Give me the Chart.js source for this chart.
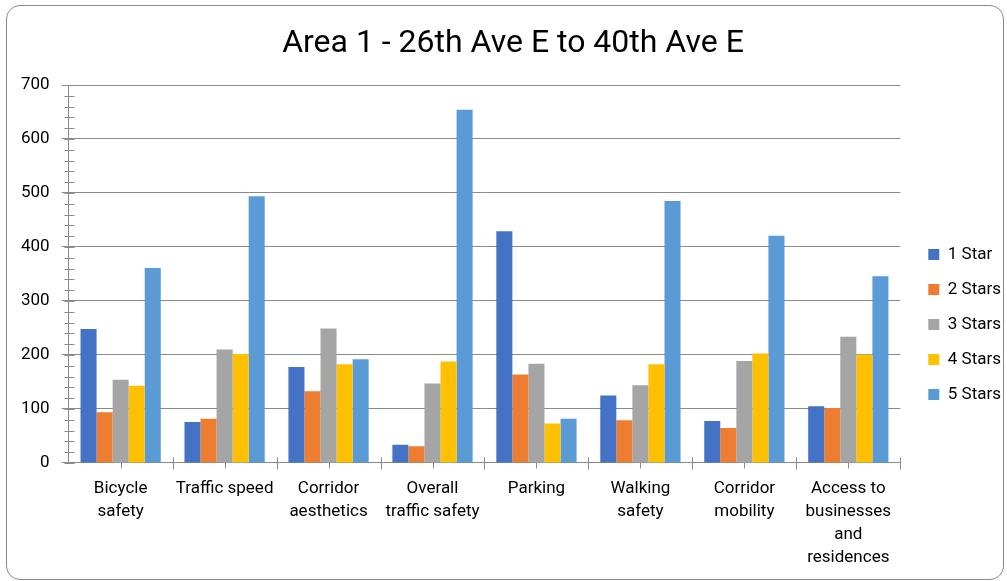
<!DOCTYPE html>
<html>
<head>
<meta charset="utf-8">
<script src="https://cdn.jsdelivr.net/npm/chart.js@4/dist/chart.umd.min.js"></script>
<style>
  html, body { margin: 0; padding: 0; background: #fff; }
  #wrap { position: relative; width: 1007px; height: 581px; overflow: hidden; }
  #frame { position: absolute; left: 6px; top: 5px; width: 998px; height: 575px;
           border: 1px solid #8a8a8a; border-radius: 14px; pointer-events: none; box-sizing: border-box; }
  canvas { position: absolute; left: 0; top: 0; }
</style>
</head>
<body>
<div id="wrap">
  <canvas id="c" width="1007" height="581"></canvas>
  <div id="frame"></div>
</div>
<script>
const titleText = "Area 1 - 26th Ave E to 40th Ave E";
const categories = [
  ["Bicycle", "safety"],
  "Traffic speed",
  ["Corridor", "aesthetics"],
  ["Overall", "traffic safety"],
  "Parking",
  ["Walking", "safety"],
  ["Corridor", "mobility"],
  ["Access to", "businesses", "and", "residences"]
];
const seriesNames = ["1 Star", "2 Stars", "3 Stars", "4 Stars", "5 Stars"];
const oneStar    = [248, 76, 178, 34, 429, 125, 78, 105];
const twoStars   = [94, 82, 133, 31, 164, 79, 65, 102];
const threeStars = [154, 210, 249, 147, 184, 144, 189, 234];
const fourStars  = [143, 202, 183, 188, 73, 183, 203, 201];
const fiveStars  = [361, 494, 192, 654, 82, 485, 421, 346];
const seriesColors = ["#4472C4", "#ED7D31", "#A5A5A5", "#FFC000", "#5B9BD5"];
const yMin = 0, yMax = 700, yStep = 100, yMinorStep = 20;

const FONT = "Roboto, 'Liberation Sans', sans-serif";
const AXIS = "#8a8a8a";

const minorTicks = {
  id: "minorTicks",
  beforeDatasetsDraw(chart) {
    const { ctx } = chart;
    const x = chart.scales.x, y = chart.scales.y;
    ctx.save();
    ctx.strokeStyle = AXIS;
    ctx.lineWidth = 1;
    const ax = Math.round(x.left) + 0.5;
    for (let v = yMin; v <= yMax; v += yMinorStep) {
      const py = Math.round(y.getPixelForValue(v)) + 0.5;
      ctx.beginPath(); ctx.moveTo(ax - 5, py); ctx.lineTo(ax + 5, py); ctx.stroke();
    }
    const by = Math.round(y.getPixelForValue(0)) + 0.5;
    for (let i = 0; i < categories.length; i++) {
      const pb = Math.round(x.getPixelForValue(i + 0.5)) + 0.5;
      ctx.beginPath(); ctx.moveTo(pb, by - 6); ctx.lineTo(pb, by + 6); ctx.stroke();
      const pc = Math.round(x.getPixelForValue(i)) + 0.5;
      ctx.beginPath(); ctx.moveTo(pc, by - 5); ctx.lineTo(pc, by + 5); ctx.stroke();
    }
    ctx.restore();
  }
};

const boxShift = {
  id: "boxShift",
  afterLayout(chart) {
    const lg = chart.legend;
    const dx = 10, dy = 33;
    lg.left += dx; lg.right += dx;
    lg.top += dy; lg.bottom += dy;
    const tb = chart.titleBlock;
    tb.left += 8; tb.right += 8;
  }
};

const seriesValues = [oneStar, twoStars, threeStars, fourStars, fiveStars];
const datasets = seriesNames.map((name, i) => ({
  label: name,
  data: seriesValues[i],
  backgroundColor: seriesColors[i],
  borderWidth: 0,
  categoryPercentage: 0.772,
  barPercentage: 1.0
}));

new Chart(document.getElementById("c"), {
  type: "bar",
  data: { labels: categories, datasets },
  plugins: [minorTicks, boxShift],
  options: {
    responsive: false,
    animation: false,
    devicePixelRatio: 1,
    layout: { padding: { left: 9, right: 6, top: 0, bottom: -2 } },
    plugins: {
      title: {
        display: true, text: titleText, color: "#000",
        font: { family: FONT, size: 32, weight: "normal", lineHeight: 1.2 },
        padding: { top: 25, bottom: 21.6 }
      },
      legend: {
        display: true, position: "right",
        labels: {
          color: "#000", boxWidth: 11, boxHeight: 11, padding: 18,
          font: { family: FONT, size: 17 }
        }
      },
      tooltip: { enabled: false }
    },
    scales: {
      x: {
        grid: { display: false, drawTicks: false },
        border: { display: true, color: AXIS, width: 1 },
        ticks: { color: "#000", padding: 14, maxRotation: 0, autoSkip: false,
                 font: { family: FONT, size: 17, lineHeight: 1.353 } }
      },
      y: {
        min: yMin, max: yMax,
        grid: { color: AXIS, tickLength: 7, drawTicks: true },
        border: { display: true, color: AXIS, width: 1 },
        ticks: { stepSize: yStep, color: "#000", padding: 12,
                 font: { family: FONT, size: 17 } }
      }
    }
  }
});
</script>
</body>
</html>
